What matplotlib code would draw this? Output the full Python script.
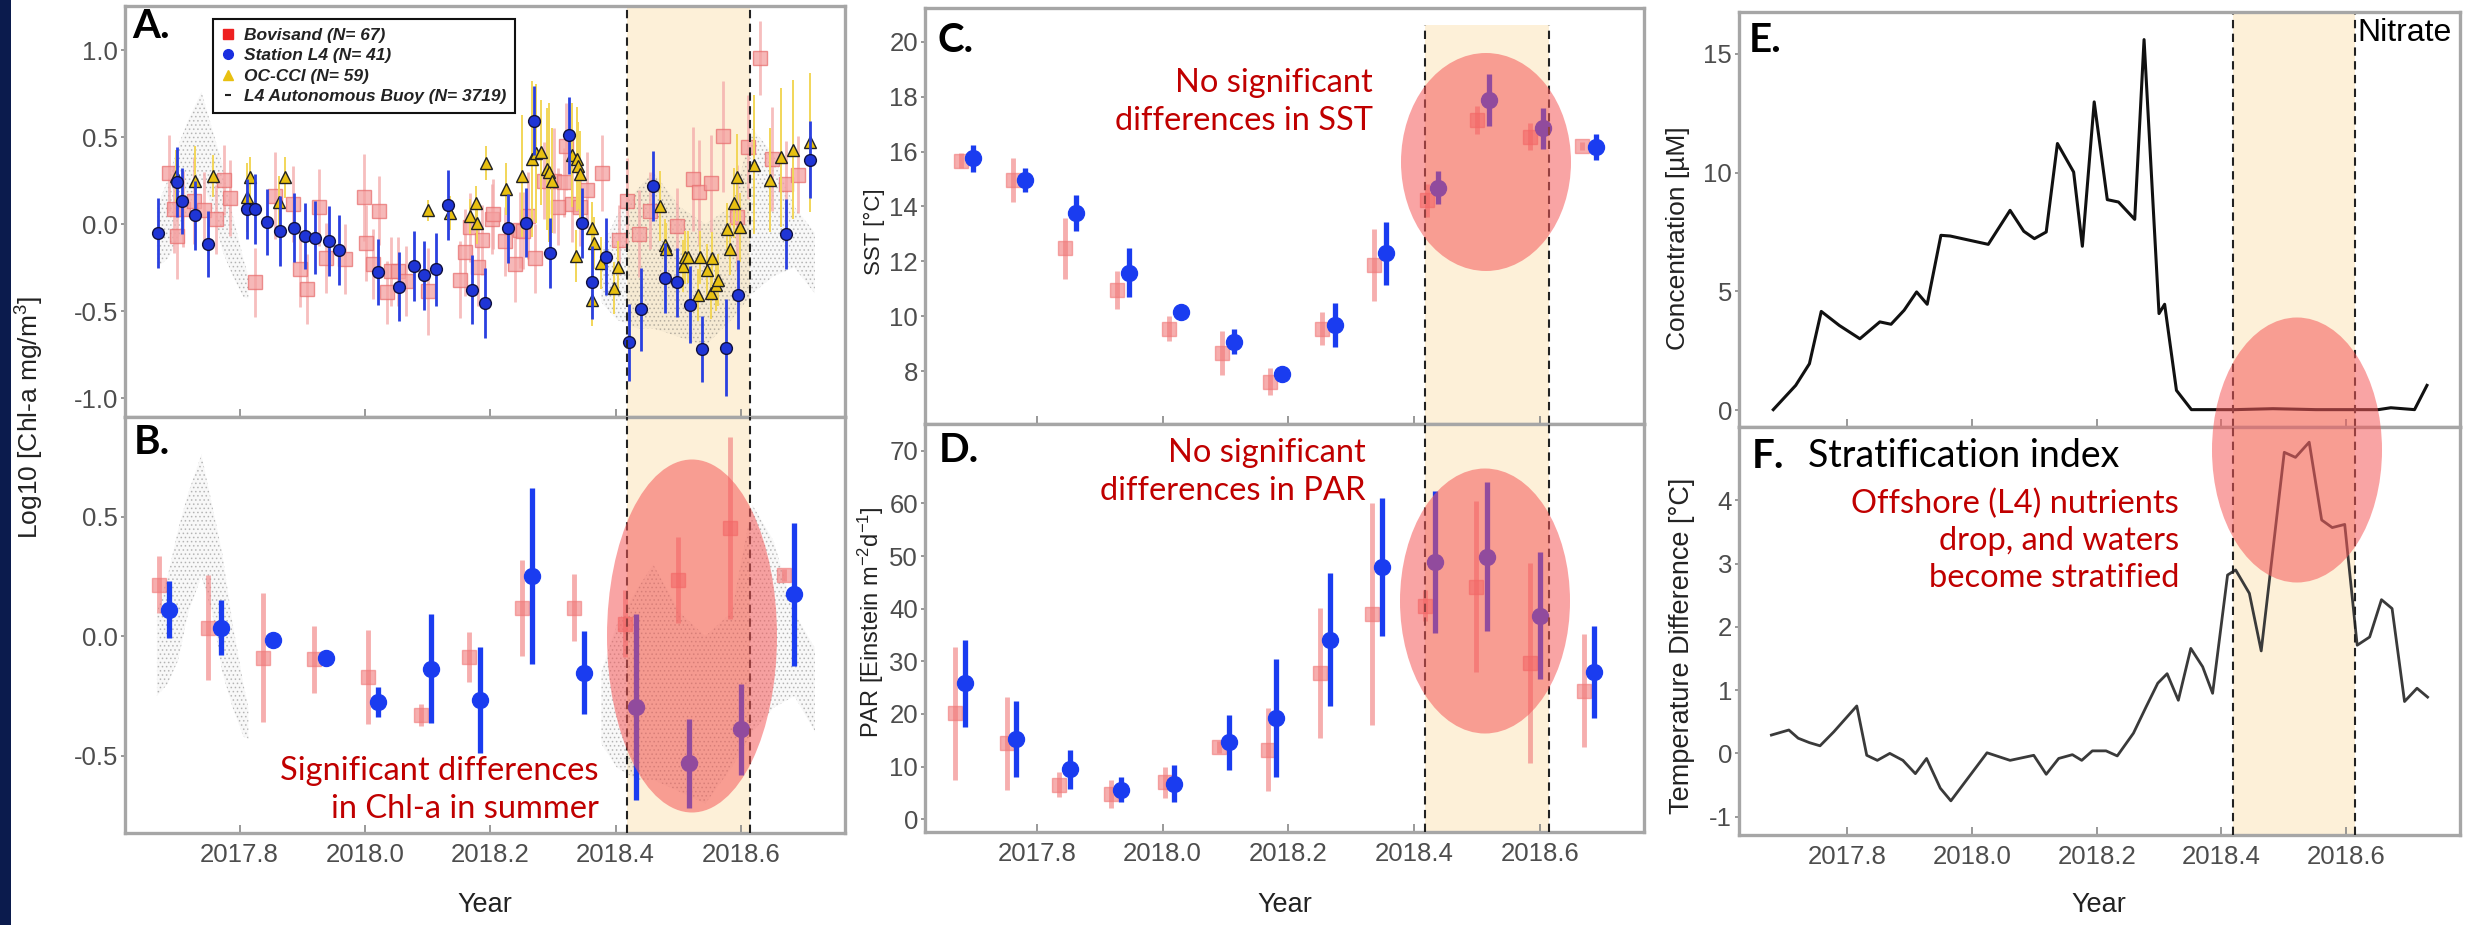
import matplotlib
matplotlib.use('Agg')
import matplotlib.pyplot as plt
from matplotlib.patches import Ellipse, Rectangle
from matplotlib.lines import Line2D

plt.rcParams['font.family'] = ['Liberation Sans', 'DejaVu Sans']
plt.rcParams['axes.unicode_minus'] = False
plt.rcParams['hatch.linewidth'] = 0.7
plt.rcParams['mathtext.fontset'] = 'custom'
plt.rcParams['mathtext.rm'] = 'Liberation Sans'
plt.rcParams['mathtext.it'] = 'Liberation Sans:italic'

# ---------------- data ----------------
# panel A: individual samples (log10 chl-a)
bov_t = [2017.687, 2017.695, 2017.700, 2017.710, 2017.727, 2017.743, 2017.762, 2017.775, 2017.785, 2017.824,
         2017.856, 2017.885, 2017.896, 2017.907, 2017.927, 2017.938, 2017.968, 2017.999, 2018.002, 2018.012,
         2018.022, 2018.035, 2018.042, 2018.052, 2018.065, 2018.100, 2018.152, 2018.160, 2018.167, 2018.181,
         2018.187, 2018.203, 2018.204, 2018.223, 2018.239, 2018.248, 2018.252, 2018.260, 2018.271, 2018.285,
         2018.302, 2018.308, 2018.318, 2018.320, 2018.331, 2018.343, 2018.355, 2018.378, 2018.406, 2018.418,
         2018.437, 2018.455, 2018.498, 2018.523, 2018.533, 2018.552, 2018.571, 2018.593, 2018.612, 2018.631,
         2018.650, 2018.672, 2018.691]
bov_v = [0.293, 0.086, -0.067, 0.086, 0.134, 0.080, 0.027, 0.253, 0.149, -0.335,
         0.163, 0.115, -0.259, -0.375, 0.096, -0.195, -0.201, 0.153, -0.109, -0.230,
         0.077, -0.393, -0.272, -0.272, -0.326, -0.387, -0.320, -0.163, -0.019, -0.249,
         -0.092, 0.029, 0.057, -0.100, -0.230, -0.034, -0.038, 0.048, -0.197, 0.249,
         0.249, 0.100, 0.239, 0.446, 0.115, 0.096, 0.195, 0.293, -0.092, 0.130,
         -0.057, 0.077, -0.011, 0.259, 0.182, 0.234, 0.504, 0.038, 0.441, 0.954,
         0.374, 0.230, 0.284]
bov_e = [0.22, 0.25, 0.25, 0.22, 0.25, 0.22, 0.20, 0.20, 0.22, 0.20,
         0.25, 0.22, 0.22, 0.20, 0.22, 0.20, 0.20, 0.25, 0.22, 0.20,
         0.20, 0.18, 0.20, 0.20, 0.20, 0.25, 0.22, 0.25, 0.20, 0.22,
         0.20, 0.20, 0.20, 0.20, 0.22, 0.22, 0.22, 0.25, 0.20, 0.22,
         0.30, 0.22, 0.20, 0.25, 0.22, 0.22, 0.22, 0.22, 0.20, 0.25,
         0.25, 0.22, 0.22, 0.30, 0.30, 0.28, 0.32, 0.30, 0.30, 0.21,
         0.30, 0.25, 0.22]

l4_t = [2017.670, 2017.700, 2017.708, 2017.728, 2017.750, 2017.812, 2017.825, 2017.844, 2017.864, 2017.886,
        2017.905, 2017.921, 2017.942, 2017.959, 2018.020, 2018.055, 2018.078, 2018.094, 2018.113, 2018.133,
        2018.171, 2018.192, 2018.228, 2018.257, 2018.270, 2018.295, 2018.325, 2018.347, 2018.363, 2018.384,
        2018.421, 2018.441, 2018.460, 2018.479, 2018.498, 2018.518, 2018.537, 2018.576, 2018.595, 2018.672, 2018.710]
l4_v = [-0.05, 0.24, 0.13, 0.05, -0.115, 0.086, 0.086, 0.01, -0.04, -0.02,
        -0.07, -0.08, -0.096, -0.15, -0.274, -0.36, -0.24, -0.295, -0.26, 0.11,
        -0.377, -0.454, -0.025, 0.008, 0.594, -0.167, 0.51, 0.006, -0.335, -0.188,
        -0.68, -0.49, 0.22, -0.31, -0.335, -0.464, -0.72, -0.71, -0.406, -0.057, 0.37]
l4_e = [0.20, 0.20, 0.19, 0.20, 0.19, 0.17, 0.20, 0.19, 0.20, 0.20,
        0.19, 0.21, 0.20, 0.20, 0.19, 0.20, 0.20, 0.20, 0.21, 0.20,
        0.20, 0.20, 0.20, 0.20, 0.20, 0.20, 0.22, 0.20, 0.21, 0.22,
        0.22, 0.24, 0.20, 0.20, 0.20, 0.22, 0.19, 0.28, 0.20, 0.20, 0.22]

occi_t = [2017.698, 2017.728, 2017.758, 2017.812, 2017.817, 2017.863, 2017.873, 2018.100, 2018.135, 2018.168,
          2018.177, 2018.178, 2018.193, 2018.225, 2018.250, 2018.266, 2018.273, 2018.281, 2018.291, 2018.293,
          2018.298, 2018.331, 2018.339, 2018.340, 2018.343, 2018.337, 2018.363, 2018.366, 2018.362, 2018.377,
          2018.398, 2018.403, 2018.471, 2018.478, 2018.481, 2018.508, 2018.510, 2018.516, 2018.531, 2018.535,
          2018.546, 2018.552, 2018.553, 2018.560, 2018.564, 2018.583, 2018.589, 2018.593, 2018.577, 2018.598,
          2018.621, 2018.646, 2018.664, 2018.683, 2018.710]
occi_v = [0.278, 0.249, 0.278, 0.153, 0.268, 0.125, 0.268, 0.080, 0.063, 0.044,
          0.119, 0.004, 0.351, 0.201, 0.278, 0.374, 0.406, 0.412, 0.316, 0.297,
          0.249, 0.398, 0.374, 0.335, 0.287, -0.182, -0.023, -0.111, -0.435, -0.224,
          -0.368, -0.249, 0.102, -0.121, -0.144, -0.239, -0.192, -0.188, -0.406, -0.192,
          -0.264, -0.398, -0.197, -0.349, -0.320, -0.144, 0.121, 0.268, -0.029, -0.019,
          0.341, 0.253, 0.383, 0.427, 0.469]
occi_e = [0.15, 0.20, 0.12, 0.20, 0.12, 0.15, 0.12, 0.06, 0.10, 0.10,
          0.10, 0.12, 0.10, 0.15, 0.35, 0.45, 0.40, 0.30, 0.35, 0.40,
          0.30, 0.30, 0.30, 0.25, 0.25, 0.15, 0.15, 0.15, 0.15, 0.15,
          0.15, 0.15, 0.20, 0.15, 0.15, 0.15, 0.15, 0.15, 0.15, 0.15,
          0.15, 0.15, 0.15, 0.15, 0.15, 0.15, 0.20, 0.25, 0.15, 0.20,
          0.40, 0.30, 0.40, 0.40, 0.40]

# autonomous buoy: envelope of the point cloud (two deployments)
buoy1_t = [2017.668, 2017.685, 2017.702, 2017.718, 2017.739, 2017.756, 2017.772, 2017.789, 2017.806, 2017.814]
buoy1_lo = [-0.25, -0.20, -0.10, 0.10, 0.25, 0.10, -0.15, -0.30, -0.42, -0.43]
buoy1_hi = [0.10, 0.25, 0.45, 0.60, 0.76, 0.55, 0.35, 0.05, -0.20, -0.30]
buoy2_t = [2018.377, 2018.402, 2018.435, 2018.460, 2018.502, 2018.543, 2018.585, 2018.618, 2018.652, 2018.685, 2018.718]
buoy2_lo = [-0.45, -0.55, -0.60, -0.60, -0.65, -0.70, -0.55, -0.40, -0.30, -0.25, -0.40]
buoy2_hi = [-0.15, 0.05, 0.20, 0.30, 0.10, 0.00, 0.10, 0.55, 0.40, 0.10, -0.05]

# panel B: monthly means of chl-a
chlB_bov_t = [2017.671, 2017.750, 2017.837, 2017.918, 2018.004, 2018.089, 2018.166, 2018.250, 2018.333, 2018.415, 2018.499, 2018.583, 2018.668]
chlB_bov_v = [0.216, 0.036, -0.090, -0.097, -0.170, -0.330, -0.086, 0.118, 0.120, 0.053, 0.234, 0.453, 0.255]
chlB_bov_e = [0.12, 0.22, 0.27, 0.14, 0.195, 0.045, 0.105, 0.20, 0.14, 0.14, 0.18, 0.38, 0.025]
chlB_l4_t = [2017.687, 2017.770, 2017.853, 2017.937, 2018.021, 2018.106, 2018.183, 2018.267, 2018.350, 2018.433, 2018.517, 2018.600, 2018.685]
chlB_l4_v = [0.111, 0.036, -0.014, -0.093, -0.274, -0.135, -0.267, 0.252, -0.153, -0.295, -0.532, -0.390, 0.175]
chlB_l4_e = [0.12, 0.115, 0.02, 0.02, 0.063, 0.226, 0.223, 0.37, 0.174, 0.39, 0.185, 0.19, 0.30]

# panel C: SST
sst_bov_t = [2017.680, 2017.762, 2017.845, 2017.927, 2018.011, 2018.095, 2018.171, 2018.254, 2018.336, 2018.420, 2018.500, 2018.584, 2018.668]
sst_bov_v = [15.66, 14.96, 12.47, 10.95, 9.55, 8.67, 7.61, 9.55, 11.86, 14.23, 17.15, 16.54, 16.20]
sst_bov_e = [0.27, 0.80, 1.10, 0.70, 0.45, 0.80, 0.50, 0.60, 1.30, 0.60, 0.50, 0.50, 0.15]
sst_l4_t = [2017.699, 2017.781, 2017.863, 2017.947, 2018.030, 2018.114, 2018.190, 2018.274, 2018.355, 2018.439, 2018.520, 2018.605, 2018.689]
sst_l4_v = [15.75, 14.96, 13.77, 11.58, 10.14, 9.07, 7.91, 9.68, 12.29, 14.68, 17.87, 16.84, 16.17]
sst_l4_e = [0.50, 0.45, 0.66, 0.90, 0.15, 0.45, 0.12, 0.80, 1.14, 0.60, 0.95, 0.76, 0.47]

# panel D: PAR
par_bov_t = [2017.670, 2017.752, 2017.836, 2017.918, 2018.004, 2018.090, 2018.167, 2018.251, 2018.333, 2018.418, 2018.499, 2018.585, 2018.670]
par_bov_v = [20.1, 14.4, 6.6, 4.8, 7.0, 13.7, 13.2, 27.8, 39.0, 40.6, 44.2, 29.6, 24.4]
par_bov_e = [12.6, 8.9, 2.4, 2.6, 3.0, 1.1, 7.9, 12.3, 21.0, 3.0, 16.3, 19.0, 10.7]
par_l4_t = [2017.686, 2017.767, 2017.853, 2017.934, 2018.018, 2018.105, 2018.181, 2018.267, 2018.349, 2018.433, 2018.516, 2018.600, 2018.686]
par_l4_v = [25.8, 15.2, 9.5, 5.6, 6.8, 14.6, 19.3, 34.1, 48.0, 48.9, 49.9, 38.7, 28.0]
par_l4_e = [8.2, 7.2, 3.7, 2.4, 3.5, 5.3, 11.2, 12.6, 13.1, 13.5, 14.1, 12.1, 8.8]

# panel E: nitrate at L4
no3_t = [2017.681, 2017.717, 2017.739, 2017.758, 2017.787, 2017.820, 2017.852, 2017.870, 2017.891, 2017.911,
         2017.928, 2017.950, 2017.965, 2018.026, 2018.061, 2018.083, 2018.100, 2018.119, 2018.137, 2018.163,
         2018.177, 2018.196, 2018.217, 2018.235, 2018.261, 2018.276, 2018.300, 2018.309, 2018.328, 2018.352,
         2018.422, 2018.483, 2018.552, 2018.613, 2018.652, 2018.672, 2018.691, 2018.710, 2018.730]
no3_v = [0.03, 1.05, 1.96, 4.16, 3.57, 3.01, 3.72, 3.62, 4.21, 4.98,
         4.46, 7.36, 7.33, 6.98, 8.41, 7.53, 7.22, 7.50, 11.22, 10.02,
         6.90, 12.97, 8.86, 8.76, 8.03, 15.59, 4.07, 4.46, 0.84, 0.03,
         0.03, 0.07, 0.03, 0.03, 0.03, 0.11, 0.07, 0.03, 1.05]

# panel F: stratification index
strat_t = [2017.678, 2017.706, 2017.721, 2017.739, 2017.756, 2017.778, 2017.815, 2017.831, 2017.848, 2017.868,
           2017.889, 2017.909, 2017.927, 2017.949, 2017.966, 2018.024, 2018.061, 2018.099, 2018.119, 2018.139,
           2018.161, 2018.176, 2018.193, 2018.215, 2018.233, 2018.259, 2018.279, 2018.298, 2018.313, 2018.331,
           2018.351, 2018.370, 2018.386, 2018.410, 2018.423, 2018.445, 2018.464, 2018.501, 2018.519, 2018.541,
           2018.561, 2018.578, 2018.598, 2018.618, 2018.638, 2018.657, 2018.674, 2018.694, 2018.714, 2018.731]
strat_v = [0.29, 0.37, 0.24, 0.17, 0.12, 0.34, 0.75, -0.03, -0.11, 0.00,
           -0.11, -0.32, -0.08, -0.55, -0.75, 0.01, -0.11, -0.03, -0.33, -0.08,
           -0.02, -0.11, 0.04, 0.04, -0.04, 0.32, 0.73, 1.11, 1.26, 0.84,
           1.66, 1.37, 0.95, 2.82, 2.90, 2.53, 1.62, 4.76, 4.68, 4.92,
           3.69, 3.57, 3.62, 1.71, 1.84, 2.43, 2.29, 0.82, 1.03, 0.89]

summer = (2018.418, 2018.615)
xticks = [2017.8, 2018.0, 2018.2, 2018.4, 2018.6]

# ---------------- figure ----------------
W, H = 2473, 925
fig = plt.figure(figsize=(W / 100, H / 100), dpi=100)


def box(x0, y0, x1, y1):
    return [x0 / W, 1 - y1 / H, (x1 - x0) / W, (y1 - y0) / H]


FRAME = '#a6a6a6'
PEACH = '#fdf0d8'
TXT = '#4d4d4d'
RED = '#c00000'
BLUE = '#1a3cf0'
PINK = '#f07878'


def style(ax, xlim, ylim, yticks, labels_x, top=1.0):
    ax.set_xlim(*xlim)
    ax.set_ylim(*ylim)
    ax.set_xticks(xticks)
    ax.set_yticks(yticks)
    for s in ax.spines.values():
        s.set_color(FRAME)
        s.set_linewidth(2.4)
    ax.tick_params(axis='x', direction='in', length=6, width=1.2, color='#888888',
                   labelsize=18.5, labelcolor=TXT, pad=7, labelbottom=labels_x)
    ax.tick_params(axis='y', direction='out', length=3, width=1.2, color='#888888',
                   labelsize=18.5, labelcolor=TXT, pad=2)
    ax.axvspan(summer[0], summer[1], ymax=top, color=PEACH, lw=0, zorder=0)
    for xv in summer:
        ax.axvline(xv, ymax=top, color='#222222', lw=1.5, ls=(0, (4, 2.6)), zorder=6)


def monthly(ax, bt, bv, be, lt, lv, le):
    ax.errorbar(bt, bv, yerr=be, fmt='s', ms=10, mfc=PINK, mec=PINK, ecolor=PINK,
                elinewidth=3.5, alpha=0.6, capsize=0, zorder=3)
    ax.errorbar(lt, lv, yerr=le, fmt='o', ms=11.5, mfc=BLUE, mec=BLUE, ecolor=BLUE,
                elinewidth=3.8, capsize=0, zorder=4)


def buoy(ax):
    for t, lo, hi in [(buoy1_t, buoy1_lo, buoy1_hi), (buoy2_t, buoy2_lo, buoy2_hi)]:
        ax.fill_between(t, lo, hi, facecolor=(0.5, 0.5, 0.5, 0.05),
                        edgecolor=(0.3, 0.3, 0.3, 0.3), hatch='....', lw=0, zorder=1)


# A
axA = fig.add_axes(box(125, 6, 845, 417))
style(axA, (2017.617, 2018.766), (-1.109, 1.253), [-1.0, -0.5, 0.0, 0.5, 1.0], False)
axA.set_yticklabels(['-1.0', '-0.5', '0.0', '0.5', '1.0'])
buoy(axA)
axA.errorbar(bov_t, bov_v, yerr=bov_e, fmt='s', ms=10, mfc='#f4a0a0', mec='#e87070', mew=1,
             ecolor='#f4a8a8', elinewidth=2, alpha=0.75, capsize=0, zorder=2)
axA.errorbar(occi_t, occi_v, yerr=occi_e, fmt='^', ms=8, mfc='#e8c010', mec='#222222', mew=1,
             ecolor='#f2d658', elinewidth=1.4, capsize=0, zorder=3)
axA.errorbar(l4_t, l4_v, yerr=l4_e, fmt='o', ms=8.5, mfc='#1f35d6', mec='#101040', mew=1,
             ecolor='#2a40e0', elinewidth=2, capsize=0, zorder=4)
handles = [Line2D([], [], ls='none', marker='s', ms=7, color='#ee2020'),
           Line2D([], [], ls='none', marker='o', ms=7, color='#1a2fe0'),
           Line2D([], [], ls='none', marker='^', ms=7, color='#e8c010'),
           Line2D([], [], ls='none', marker='_', ms=5, mew=1.5, color='#222222')]
leg = axA.legend(handles, ['Bovisand (N= 67)', 'Station L4 (N= 41)', 'OC-CCI (N= 59)',
                           'L4 Autonomous Buoy (N= 3719)'],
                 loc='upper left', bbox_to_anchor=(0.122, 0.968), borderaxespad=0,
                 prop={'size': 12.5, 'style': 'italic', 'weight': 'bold'},
                 handlelength=0.8, handletextpad=0.5, labelspacing=0.3, borderpad=0.5,
                 fancybox=False, framealpha=1, edgecolor='#111111')
leg.get_frame().set_linewidth(1.5)
for t in leg.get_texts():
    t.set_color('#222222')
leg.set_zorder(8)

# B
axB = fig.add_axes(box(125, 417, 845, 833))
style(axB, (2017.617, 2018.766), (-0.823, 0.917), [-0.5, 0.0, 0.5], True)
axB.set_yticklabels(['-0.5', '0.0', '0.5'])
axB.set_xticklabels(['2017.8', '2018.0', '2018.2', '2018.4', '2018.6'])
buoy(axB)
monthly(axB, chlB_bov_t, chlB_bov_v, chlB_bov_e, chlB_l4_t, chlB_l4_v, chlB_l4_e)

# C
axC = fig.add_axes(box(925, 8, 1644, 424))
style(axC, (2017.622, 2018.766), (6.07, 21.23), [8, 10, 12, 14, 16, 18, 20], False, top=0.958)
monthly(axC, sst_bov_t, sst_bov_v, sst_bov_e, sst_l4_t, sst_l4_v, sst_l4_e)

# D
axD = fig.add_axes(box(925, 424, 1644, 832))
style(axD, (2017.622, 2018.766), (-2.41, 75.07), [0, 10, 20, 30, 40, 50, 60, 70], True)
axD.set_xticklabels(['2017.8', '2018.0', '2018.2', '2018.4', '2018.6'])
monthly(axD, par_bov_t, par_bov_v, par_bov_e, par_l4_t, par_l4_v, par_l4_e)

# E
axE = fig.add_axes(box(1739, 12, 2460, 427))
style(axE, (2017.626, 2018.783), (-0.70, 16.75), [0, 5, 10, 15], False, top=0.995)
axE.plot(no3_t, no3_v, color='#111111', lw=2.2, zorder=5)

# F
axF = fig.add_axes(box(1739, 427, 2460, 835))
style(axF, (2017.626, 2018.783), (-1.29, 5.16), [-1, 0, 1, 2, 3, 4], True)
axF.set_xticklabels(['2017.8', '2018.0', '2018.2', '2018.4', '2018.6'])
axF.plot(strat_t, strat_v, color='#3a3a3a', lw=2.0, zorder=5)

# axis titles
def ftext(x, y, s, **kw):
    fig.text(x / W, 1 - y / H, s, **kw)


ftext(30, 417, 'Log10 [Chl-a mg/m$^3$]', rotation=90, ha='center', va='center', fontsize=19, color='#222222')
ftext(874, 232, 'SST [°C]', rotation=90, ha='center', va='center', fontsize=16, color='#222222')
ftext(871, 622, 'PAR [Einstein m$^{-2}$d$^{-1}$]', rotation=90, ha='center', va='center', fontsize=17, color='#222222')
ftext(1678, 238, 'Concentration [µM]', rotation=90, ha='center', va='center', fontsize=19, color='#222222')
ftext(1682, 646, 'Temperature Difference [°C]', rotation=90, ha='center', va='center', fontsize=19.5, color='#222222')
for xc in (485, 1285, 2099):
    ftext(xc, 905, 'Year', ha='center', va='center', fontsize=19.5, color='#222222')

# overlay: navy strip, highlight ellipses, panel letters and notes
ov = fig.add_axes([0, 0, 1, 1], zorder=20)
ov.set_xlim(0, W)
ov.set_ylim(H, 0)
ov.axis('off')
ov.patch.set_alpha(0)
ov.add_patch(Rectangle((0, 0), 11, H, color='#0b1b4d', lw=0))
ell = dict(facecolor=(0.96, 0.35, 0.35), alpha=0.55, lw=0)
ov.add_patch(Ellipse((692, 636), 170, 353, **ell))
ov.add_patch(Ellipse((1486, 162), 170, 218, **ell))
ov.add_patch(Ellipse((1485, 601), 170, 265, **ell))
ov.add_patch(Ellipse((2297, 450), 170, 265, **ell))

LF = ['Lato', 'DejaVu Sans']
for x, y, s in [(132, 27, 'A.'), (134, 443, 'B.'), (938, 40, 'C.'), (939, 451, 'D.'),
                (1749, 40, 'E.'), (1752, 456, 'F.')]:
    ov.text(x, y, s, ha='left', va='center', fontsize=29, fontweight='bold', family=LF, color='black')
ov.text(1808, 456, 'Stratification index', ha='left', va='center', fontsize=27, family=LF, color='black')
ov.text(2357, 33, 'Nitrate', ha='left', va='center', fontsize=23, color='black')

note = dict(ha='right', va='center', fontsize=23.5, family=LF, color=RED, linespacing=1.3)
ov.text(599, 790, 'Significant differences\nin Chl-a in summer', **note)
ov.text(1373, 102, 'No significant\ndifferences in SST', **note)
ov.text(1366, 472, 'No significant\ndifferences in PAR', **note)
ov.text(2179, 541, 'Offshore (L4) nutrients\ndrop, and waters\nbecome stratified', **note)

fig.savefig('out.png', dpi=100)
